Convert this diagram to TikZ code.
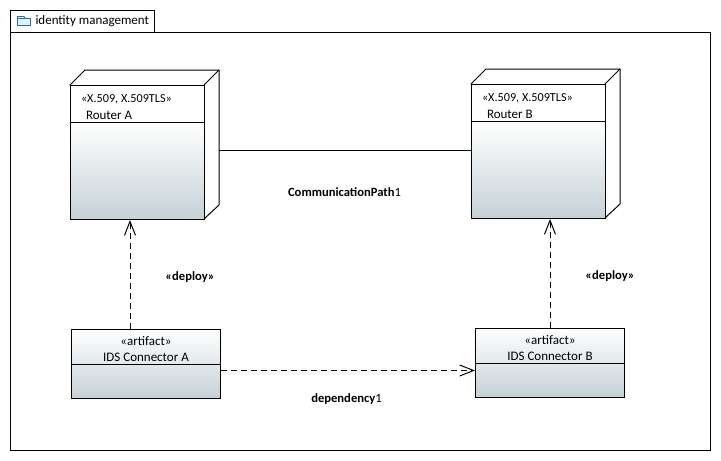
\documentclass[tikz,border=0pt]{standalone}
\usepackage{fontspec}
\setmainfont{Carlito}
\usetikzlibrary{arrows.meta}
\definecolor{umlgrey}{HTML}{C5D1D6}
\definecolor{folderblue}{HTML}{2A6EA6}
\definecolor{folderfill}{HTML}{E3F0F9}
\begin{document}
\begin{tikzpicture}[
    x=1pt, y=-1pt, line width=1pt,
    every node/.style={font=\fontsize{13}{15}\selectfont, align=center},
    package/.style={rectangle, draw=black, fill=white, anchor=north west, inner sep=0pt},
    device/.style={rectangle, draw=black, anchor=north west, inner sep=0pt,
                    top color=white, bottom color=umlgrey, minimum width=134pt},
    devicehead/.style={rectangle, draw=black, fill=white, anchor=north west, inner sep=0pt,
                    minimum width=134pt, minimum height=37pt},
    artifactbox/.style={rectangle, draw=black, anchor=north west, inner sep=0pt,
                    top color=white, bottom color=umlgrey, minimum width=149pt, minimum height=68.5pt},
    depth/.style={draw=black, fill=white, line join=miter},
    stereo/.style={anchor=west, inner sep=0pt, font=\fontsize{12.2}{14}\selectfont},
    lbl/.style={font=\fontsize{12.6}{15}\selectfont\bfseries},
    dep/.style={-{Straight Barb[length=14pt, width=11pt]}, dash pattern=on 6pt off 4pt, black},
]
% package frame and tab
\node[package, minimum width=143.5pt, minimum height=21.5pt] (tab) at (10, 10) {};
\node[package, minimum width=699.5pt, minimum height=418pt] (frame) at (10, 32) {};
\node[anchor=west, inner sep=0pt] (tabtext) at (35, 21.5) {identity management};
\draw[folderblue, fill=folderfill, line width=.8pt] (17.5, 25.5) -- (17.5, 16.5) -- (24, 16.5) -- (25.5, 18.5) -- (30.5, 18.5) -- (30.5, 25.5) -- cycle;
\draw[folderblue, line width=.8pt] (17.5, 18.5) -- (25.5, 18.5);
% Router A
\draw[depth] (70, 85) -- (85, 70) -- (219, 70) -- (219, 205) -- (204, 219) -- cycle;
\draw (204, 85) -- (219, 70);
\node[device, minimum height=97pt] (routerA) at (70, 122) {};
\node[devicehead] (routerAhead) at (70, 85) {};
\node[stereo] (routerAtype) at (80.5, 99) {«X.509, X.509TLS»};
\node[anchor=west, inner sep=0pt] (routerAname) at (85.5, 115) {Router A};
% Router B
\draw[depth] (471, 84) -- (486, 69) -- (620, 69) -- (620, 204) -- (605, 218) -- cycle;
\draw (605, 84) -- (620, 69);
\node[device, minimum height=97pt] (routerB) at (471, 121) {};
\node[devicehead] (routerBhead) at (471, 84) {};
\node[stereo] (routerBtype) at (481.5, 98) {«X.509, X.509TLS»};
\node[anchor=west, inner sep=0pt] (routerBname) at (486.5, 114) {Router B};
% artifacts
\node[artifactbox] (artifactA) at (71, 329) {};
\draw (artifactA.west |- 0, 364) -- (artifactA.east |- 0, 364);
\node[inner sep=0pt] (artifactAtype) at (146, 341) {«artifact»};
\node[inner sep=0pt] (artifactAname) at (146, 357) {IDS Connector A};
\node[artifactbox] (artifactB) at (475, 328) {};
\draw (artifactB.west |- 0, 363) -- (artifactB.east |- 0, 363);
\node[inner sep=0pt] (artifactBtype) at (550, 340) {«artifact»};
\node[inner sep=0pt] (artifactBname) at (550, 356) {IDS Connector B};
% connectors
\coordinate (routerAside) at (219, 150.5);
\coordinate (deployA) at (130, 0);
\coordinate (deployB) at (550, 0);
\coordinate (depline) at (0, 370.5);
\draw (routerAside) -- (routerAside -| routerB.west);
\draw[dep] (deployA |- artifactA.north) -- (deployA |- routerA.south);
\draw[dep] (deployB |- artifactB.north) -- (deployB |- routerB.south);
\draw[dep] (artifactA.east |- depline) -- (artifactB.west |- depline);
% labels
\node[lbl] (commlabel) at (344.5, 192) {CommunicationPath\textmd{1}};
\node[lbl] (deployAlabel) at (190, 277) {«deploy»};
\node[lbl] (deployBlabel) at (610, 276) {«deploy»};
\node[lbl] (deplabel) at (346.5, 399) {dependency\textmd{1}};
\useasboundingbox (0, 0) rectangle (721, 461);
\end{tikzpicture}
\end{document}
